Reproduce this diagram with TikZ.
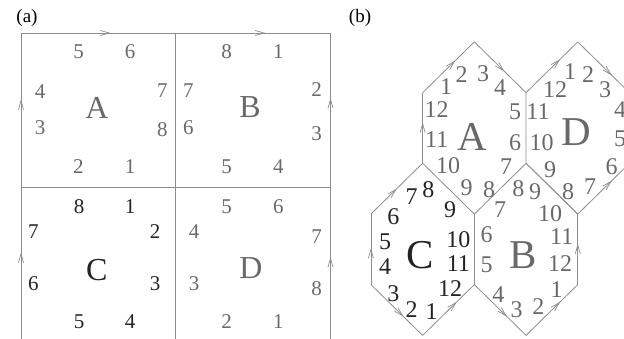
\documentclass[tikz,border=0pt]{standalone}
\usepackage{fontspec}
\setmainfont{Liberation Serif}
\usetikzlibrary{arrows.meta,decorations.markings,calc}
\definecolor{linegray}{RGB}{140,140,140}
\definecolor{txtgray}{RGB}{105,105,105}
\definecolor{txtdark}{RGB}{35,35,35}
\tikzset{
  edge/.style={draw=linegray, line width=0.8pt},
  arrowat/.style={postaction={decorate},
    decoration={markings, mark=at position #1 with {\arrow[linegray, line width=0.7pt]{Straight Barb[length=9pt,width=5pt]}}}},
  na/.style={font=\fontsize{21}{21}\selectfont, text=txtgray, inner sep=0pt},
  nad/.style={na, text=txtdark},
  la/.style={font=\fontsize{32}{32}\selectfont, text=txtgray, inner sep=0pt},
  lad/.style={la, text=txtdark},
  nb/.style={font=\fontsize{24}{24}\selectfont, text=txtgray, inner sep=0pt},
  nbd/.style={nb, text=txtdark},
  lb/.style={font=\fontsize{41}{41}\selectfont, text=txtgray, inner sep=0pt},
  lbd/.style={lb, text=txtdark},
  panel/.style={font=\fontsize{19}{19}\selectfont, text=black, inner sep=0pt}
}
\begin{document}
\begin{tikzpicture}[x=1pt,y=-1pt]
\useasboundingbox (0,0) rectangle (624,339);
\clip (0,0) rectangle (624,339);

% ---------- panel (a) ----------
\node[panel] (pa) at (27,18) {(a)};
\coordinate (TL) at (21,33);
\coordinate (TM) at (175.5,33);
\coordinate (TR) at (330.5,33);
\coordinate (ML) at (21,187.5);
\coordinate (MM) at (175.5,187.5);
\coordinate (MR) at (330.5,187.5);
\coordinate (BL) at (21,342);
\coordinate (BM) at (175.5,342);
\coordinate (BR) at (330.5,342);

\draw[edge, arrowat=0.58] (TL) -- (TM);
\draw[edge, arrowat=0.58] (TM) -- (TR);
\draw[edge, arrowat=0.57] (ML) -- (TL);
\draw[edge, arrowat=0.58] (MR) -- (TR);
\draw[edge, arrowat=0.58] (BL) -- (ML);
\draw[edge, arrowat=0.55] (BR) -- (MR);
\draw[edge] (TM) -- (MM) -- (BM);
\draw[edge] (ML) -- (MM) -- (MR);

% A
\node[la] (aA) at (97,108) {A};
\node[na] (aA5) at (78.7,51.7) {5};
\node[na] (aA6) at (130,51.7) {6};
\node[na] (aA4) at (40,91.7) {4};
\node[na] (aA7) at (162.3,90.7) {7};
\node[na] (aA3) at (40,127.3) {3};
\node[na] (aA8) at (162.3,129.3) {8};
\node[na] (aA2) at (78.3,166.7) {2};
\node[na] (aA1) at (130,166.7) {1};
% B
\node[la] (aB) at (250,106.7) {B};
\node[na] (aB8) at (226.7,52) {8};
\node[na] (aB1) at (278.3,52) {1};
\node[na] (aB7) at (188.3,90.7) {7};
\node[na] (aB2) at (316.7,90) {2};
\node[na] (aB6) at (188.3,127.7) {6};
\node[na] (aB3) at (316.7,133.3) {3};
\node[na] (aB5) at (226.7,166.7) {5};
\node[na] (aB4) at (278.3,166.7) {4};
% C
\node[lad] (aC) at (96.7,270) {C};
\node[nad] (aC8) at (79,206.7) {8};
\node[nad] (aC1) at (130,206.7) {1};
\node[nad] (aC7) at (33.3,231.7) {7};
\node[nad] (aC2) at (155,231.7) {2};
\node[nad] (aC6) at (33.3,283.3) {6};
\node[nad] (aC3) at (155,283.3) {3};
\node[nad] (aC5) at (79,321.7) {5};
\node[nad] (aC4) at (130,321.7) {4};
% D
\node[la] (aD) at (251,268.3) {D};
\node[na] (aD5) at (226.7,206.7) {5};
\node[na] (aD6) at (278.3,206.7) {6};
\node[na] (aD4) at (194,231.7) {4};
\node[na] (aD7) at (316.7,236.7) {7};
\node[na] (aD3) at (194,283.3) {3};
\node[na] (aD8) at (316.7,288.3) {8};
\node[na] (aD2) at (226.7,321.7) {2};
\node[na] (aD1) at (278.3,321.7) {1};

% ---------- panel (b) ----------
\node[panel] (pb) at (360,18) {(b)};
% hexagon vertices: w=51.7, h=35.3, a=50.8
\foreach \n/\cx/\cy in {A/474.35/128, D/577.75/128, C/422.65/249.3, B/526.05/249.3}{
  \coordinate (\n T)  at (\cx,\cy-86.1);
  \coordinate (\n UR) at (\cx+51.7,\cy-35.3);
  \coordinate (\n LR) at (\cx+51.7,\cy+35.3);
  \coordinate (\n B)  at (\cx,\cy+86.1);
  \coordinate (\n LL) at (\cx-51.7,\cy+35.3);
  \coordinate (\n UL) at (\cx-51.7,\cy-35.3);
}
% hexagon A
\draw[edge, arrowat=0.63] (AUL) -- (AT);
\draw[edge, arrowat=0.58] (ALL) -- (AUL);
\draw[edge, arrowat=0.58] (AT) -- (AUR);
\draw[edge] (AUR) -- (ALR) -- (AB) -- (ALL);
% hexagon D
\draw[edge, arrowat=0.66] (DUL) -- (DT);
\draw[edge, arrowat=0.66] (DT) -- (DUR);
\draw[edge] (DUR) -- (DLR);
\draw[edge, arrowat=0.66] (DB) -- (DLR);
\draw[edge] (DLL) -- (DB);
% hexagon C
\draw[edge, arrowat=0.52] (CLL) -- (CUL);
\draw[edge, arrowat=0.5] (CUL) -- (CT);
\draw[edge, arrowat=0.63] (CLL) -- (CB);
\draw[edge, arrowat=0.66] (CB) -- (CLR);
\draw[edge] (CLR) -- (CUR);
% hexagon B
\draw[edge, arrowat=0.63] (BLL) -- (BB);
\draw[edge, arrowat=0.66] (BB) -- (BLR);
\draw[edge, arrowat=0.58] (BLR) -- (BUR);
\draw[edge] (BUR) -- (BT);

% A labels
\node[lb] (bA) at (472.7,136.7) {A};
\node[nb] (bA1) at (446,86.7) {1};
\node[nb] (bA2) at (461.7,75) {2};
\node[nb] (bA3) at (483,73.3) {3};
\node[nb] (bA4) at (500,88) {4};
\node[nb] (bA5) at (515,111.7) {5};
\node[nb] (bA6) at (515,143) {6};
\node[nb] (bA7) at (506,166.7) {7};
\node[nb] (bA8) at (489,190) {8};
\node[nb] (bA9) at (466.7,187.5) {9};
\node[nb] (bA10) at (448,166) {10};
\node[nb] (bA11) at (436.7,140) {11};
\node[nb] (bA12) at (436.7,110) {12};
% D labels
\node[lb] (bD) at (576,131.7) {D};
\node[nb] (bD1) at (570,71.7) {1};
\node[nb] (bD2) at (588,75) {2};
\node[nb] (bD3) at (605,90) {3};
\node[nb] (bD4) at (620,110) {4};
\node[nb] (bD5) at (620,138.3) {5};
\node[nb] (bD6) at (611.7,166.7) {6};
\node[nb] (bD7) at (590,186.7) {7};
\node[nb] (bD8) at (568,191.7) {8};
\node[nb] (bD9) at (550,170) {9};
\node[nb] (bD10) at (541.7,143) {10};
\node[nb] (bD11) at (538,111.7) {11};
\node[nb] (bD12) at (555,90) {12};
% C labels
\node[lbd] (bC) at (420,255) {C};
\node[nbd] (bC8) at (428.3,190) {8};
\node[nbd] (bC7) at (411.7,196.7) {7};
\node[nbd] (bC6) at (393.3,216.7) {6};
\node[nbd] (bC5) at (385,241.7) {5};
\node[nbd] (bC4) at (385,266.7) {4};
\node[nbd] (bC3) at (393.3,293.3) {3};
\node[nbd] (bC2) at (411.7,310) {2};
\node[nbd] (bC1) at (431.7,311.7) {1};
\node[nbd] (bC12) at (450,288.3) {12};
\node[nbd] (bC11) at (458.3,263.3) {11};
\node[nbd] (bC10) at (458.3,240) {10};
\node[nbd] (bC9) at (450,210) {9};
% B labels
\node[lb] (bB) at (523.3,255) {B};
\node[nb] (bB8) at (518.3,188.3) {8};
\node[nb] (bB9) at (535,191.7) {9};
\node[nb] (bB10) at (550,213.3) {10};
\node[nb] (bB11) at (561.7,236.7) {11};
\node[nb] (bB12) at (560,263.3) {12};
\node[nb] (bB1) at (556.7,290) {1};
\node[nb] (bB2) at (538.3,306.7) {2};
\node[nb] (bB3) at (516.7,310) {3};
\node[nb] (bB4) at (498.3,295) {4};
\node[nb] (bB5) at (486.7,265) {5};
\node[nb] (bB6) at (486.7,235) {6};
\node[nb] (bB7) at (500,210) {7};
\end{tikzpicture}
\end{document}
